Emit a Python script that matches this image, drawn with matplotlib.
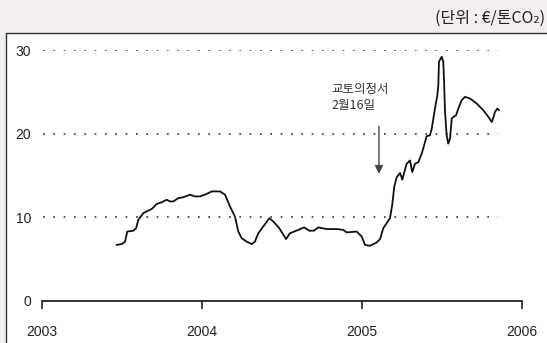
"""EU CO2 allowance price chart (2003-2006)."""

import matplotlib
matplotlib.use("Agg")
import matplotlib.pyplot as plt
from matplotlib.patches import Rectangle

# price path, x in decimal years, y in EUR / t CO2
years = [
    2003.467, 2003.498, 2003.519, 2003.533, 2003.571, 2003.588, 2003.602, 2003.633,
    2003.664, 2003.686, 2003.717, 2003.748, 2003.779, 2003.800, 2003.821, 2003.852,
    2003.883, 2003.925, 2003.956, 2003.988, 2004.029, 2004.061, 2004.113, 2004.144,
    2004.175, 2004.206, 2004.227, 2004.248, 2004.279, 2004.311, 2004.331, 2004.352,
    2004.421, 2004.446, 2004.483, 2004.525, 2004.550, 2004.602, 2004.638, 2004.671,
    2004.700, 2004.727, 2004.779, 2004.842, 2004.883, 2004.904, 2004.967, 2004.998,
    2005.019, 2005.050, 2005.092, 2005.113, 2005.133, 2005.154, 2005.175, 2005.189,
    2005.202, 2005.217, 2005.238, 2005.252, 2005.263, 2005.279, 2005.300, 2005.314,
    2005.331, 2005.352, 2005.373, 2005.394, 2005.404, 2005.425, 2005.436, 2005.456,
    2005.471, 2005.477, 2005.481, 2005.498, 2005.508, 2005.513, 2005.519, 2005.529,
    2005.539, 2005.550, 2005.561, 2005.571, 2005.588, 2005.602, 2005.623, 2005.644,
    2005.675, 2005.717, 2005.758, 2005.790, 2005.811, 2005.821, 2005.831, 2005.846,
    2005.856,
]
prices = [
    6.7, 6.8, 7.1, 8.3, 8.4, 8.7, 9.7, 10.5,
    10.8, 11.0, 11.6, 11.8, 12.1, 11.9, 11.9, 12.3,
    12.4, 12.7, 12.5, 12.5, 12.8, 13.1, 13.1, 12.7,
    11.3, 10.1, 8.3, 7.5, 7.1, 6.8, 7.1, 8.1,
    9.9, 9.5, 8.7, 7.4, 8.1, 8.5, 8.8, 8.4,
    8.4, 8.8, 8.6, 8.6, 8.5, 8.2, 8.3, 7.7,
    6.7, 6.6, 7.0, 7.4, 8.7, 9.3, 9.9, 11.5,
    13.7, 14.8, 15.3, 14.5, 15.3, 16.4, 16.8, 15.4,
    16.4, 16.6, 17.6, 19.0, 19.7, 19.8, 20.6, 23.0,
    24.6, 25.8, 28.6, 29.2, 28.6, 26.2, 22.6, 19.8,
    18.8, 19.4, 21.8, 22.0, 22.2, 23.0, 24.0, 24.4,
    24.2, 23.6, 22.8, 22.0, 21.4, 21.9, 22.6, 23.0,
    22.8,
]

x_ticks = [2003, 2004, 2005, 2006]
y_ticks = [0, 10, 20, 30]
grid_levels = [10, 20, 30]

event_date = 2005.106  # Kyoto protocol in force, 16 Feb 2005
event_text = "교토의정서\n2월16일"
unit_text = "(단위 : €/톤CO₂)"

FONT = ["Liberation Sans Narrow", "Liberation Sans", "Noto Sans CJK KR", "DejaVu Sans"]
KFONT = ["Noto Sans CJK KR", "DejaVu Sans"]
plt.rcParams["font.family"] = FONT

W, H = 547, 343
fig = plt.figure(figsize=(W / 100, H / 100), dpi=100)
fig.patch.set_facecolor("#f2efee")

# white framed panel behind the axes
fig.patches.append(Rectangle((6 / W, -0.05), 1.0, (H - 33) / H + 0.05,
                             transform=fig.transFigure, facecolor="white",
                             edgecolor="#333333", linewidth=1.0, zorder=-5))

ax = fig.add_axes([42 / W, (H - 301) / H, 480 / W, 251 / H])
ax.set_zorder(5)
ax.set_facecolor("none")
ax.set_xlim(2003, 2006)
ax.set_ylim(0, 30)

for s in ("left", "right", "top"):
    ax.spines[s].set_visible(False)
ax.spines["bottom"].set_linewidth(1.3)
ax.spines["bottom"].set_color("#222222")

ax.set_xticks(x_ticks)
ax.set_xticklabels([str(t) for t in x_ticks])
ax.set_yticks(y_ticks)
ax.set_yticklabels([str(t) for t in y_ticks])
ax.tick_params(axis="x", direction="out", length=6, width=1.2, color="#222222",
               pad=11, labelsize=10, labelcolor="#222222")
ax.tick_params(axis="y", length=0, pad=8, labelsize=10, labelcolor="#222222")

ax.hlines(grid_levels, 2003.005, 2005.85, colors="#333333", linestyles=(0, (1, 5.2)),
          linewidth=1.2)

ax.plot(years, prices, color="#111111", linewidth=1.3, clip_on=False)

ax.annotate("", xy=(event_date, 15.2), xytext=(event_date, 20.9),
            arrowprops=dict(arrowstyle="-|>", color="#444444", lw=1.0,
                            mutation_scale=12, shrinkA=0, shrinkB=0))
ax.text(2004.81, 26.1, event_text, family=KFONT, fontsize=9, color="#333333",
        va="top", ha="left", linespacing=1.3)

fig.text(545 / W, 1 - 18 / H, unit_text, family=KFONT, fontsize=11.5,
         color="#222222", ha="right", va="center")

fig.savefig("out.png", dpi=100, facecolor=fig.get_facecolor())
